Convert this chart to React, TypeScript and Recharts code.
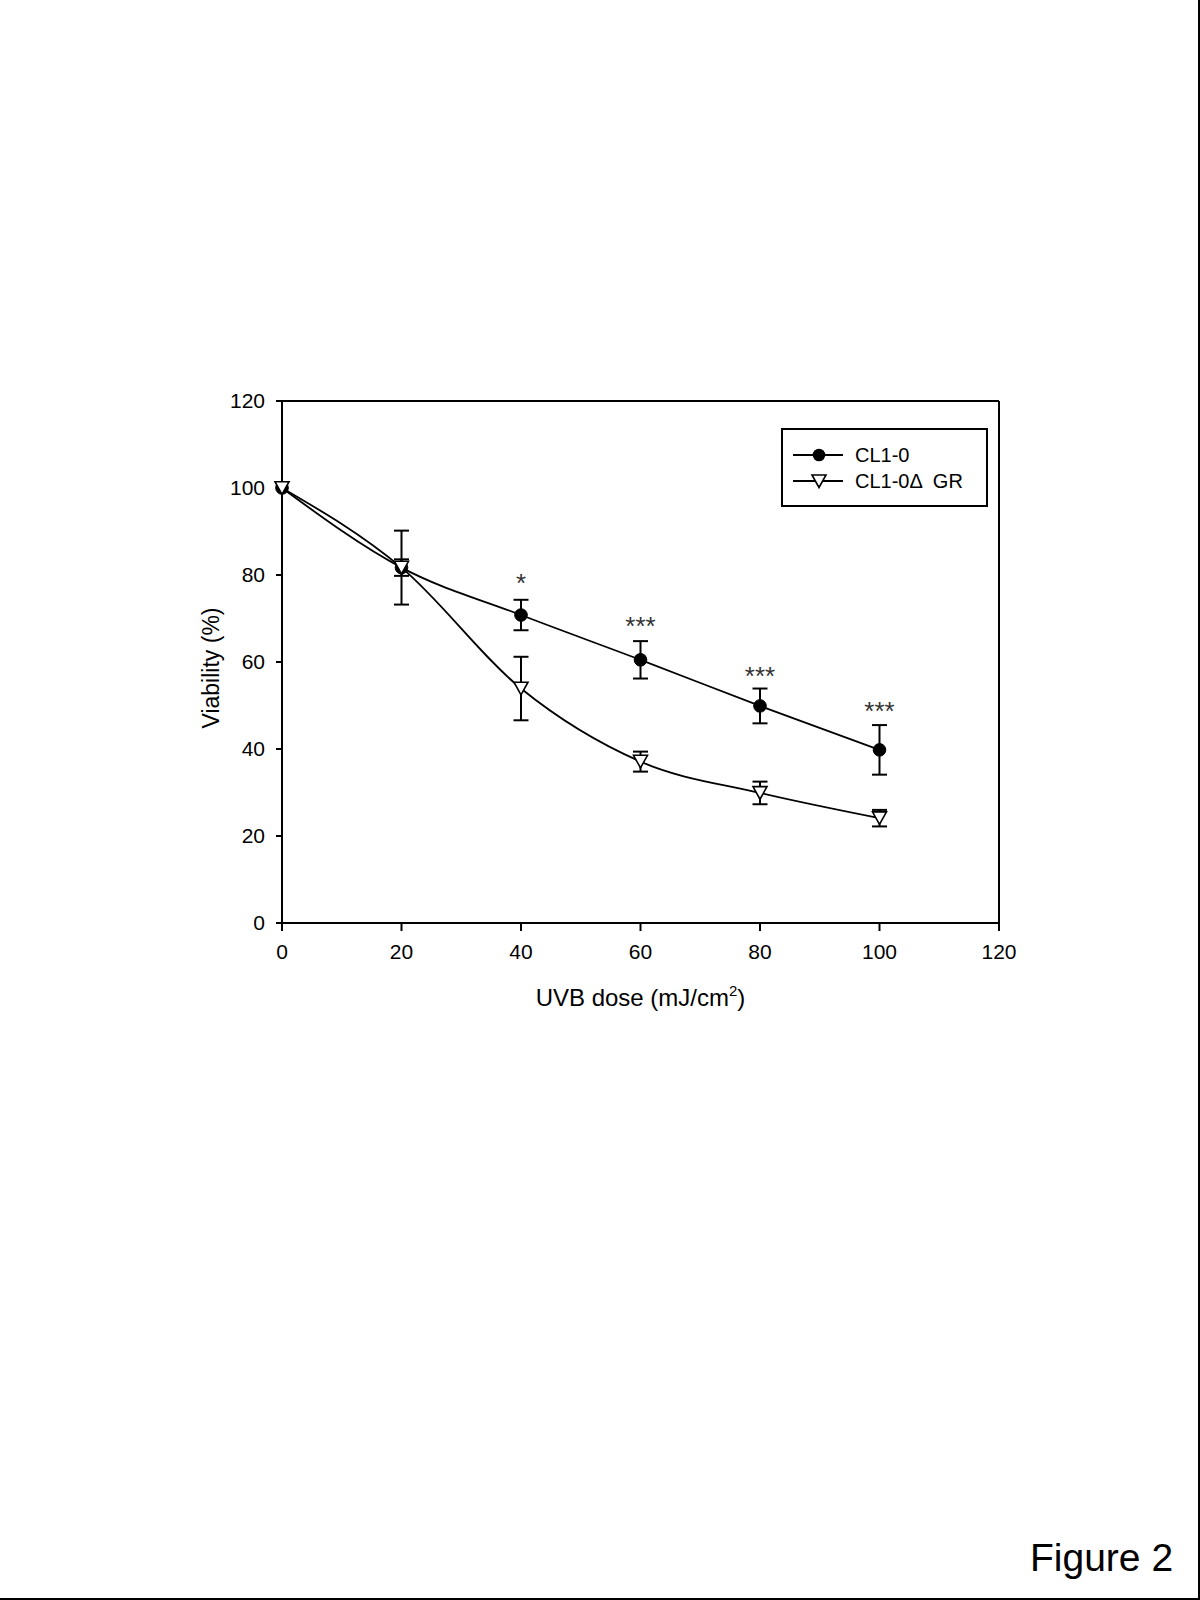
import React from 'react';
import {
  LineChart,
  Line,
  XAxis,
  YAxis,
  ErrorBar,
  ReferenceLine,
  ReferenceDot,
} from 'recharts';

const doses = [0, 20, 40, 60, 80, 100];
const cl10 = [100, 81.7, 70.8, 60.5, 49.9, 39.8];
const cl10Err = [0, 1.9, 3.5, 4.3, 4.0, 5.7];
const dgr = [100, 81.7, 53.9, 37.1, 29.9, 24.1];
const dgrErr = [0, 8.5, 7.3, 2.3, 2.6, 1.9];
const xTicks = [0, 20, 40, 60, 80, 100, 120];
const yTicks = [0, 20, 40, 60, 80, 100, 120];
const starDoses = [40, 60, 80, 100];
const starY = [78.9, 68.9, 57.5, 49.5];
const starText = ['*', '***', '***', '***'];

const SERIES_A = 'CL1-0';
const SERIES_B = 'CL1-0\u0394  GR';

const data = doses.map((d, i) => ({
  dose: d,
  a: cl10[i],
  aErr: cl10Err[i],
  b: dgr[i],
  bErr: dgrErr[i],
}));

const FONT = '"Liberation Sans", Arial, Helvetica, sans-serif';

const CircleDot = (props: any) => {
  const { cx, cy } = props;
  if (cx == null || cy == null) return null;
  return <circle cx={cx} cy={cy} r={6.3} fill="#000" stroke="#000" strokeWidth={1} />;
};

const TriDot = (props: any) => {
  const { cx, cy } = props;
  if (cx == null || cy == null) return null;
  const w = 7;
  const h = 6.3;
  return (
    <polygon
      points={`${cx - w},${cy - h} ${cx + w},${cy - h} ${cx},${cy + h}`}
      fill="#fff"
      stroke="#000"
      strokeWidth={1.6}
    />
  );
};

const LegendBox = () => (
  <div
    style={{
      position: 'absolute',
      left: 781,
      top: 428,
      width: 203,
      height: 75,
      border: '2px solid #000',
      background: '#fff',
    }}
  >
    <svg width={203} height={75} style={{ display: 'block' }}>
      <line x1={10} y1={25} x2={60} y2={25} stroke="#000" strokeWidth={1.8} />
      <circle cx={36} cy={25} r={6.3} fill="#000" />
      <text x={72} y={32} fontSize={20} fontFamily={FONT} fill="#000">{SERIES_A}</text>
      <line x1={10} y1={51} x2={60} y2={51} stroke="#000" strokeWidth={1.8} />
      <polygon points="29,45 43,45 36,57.5" fill="#fff" stroke="#000" strokeWidth={1.6} />
      <text x={72} y={58} fontSize={20} fontFamily={FONT} fill="#000" style={{ whiteSpace: 'pre' }}>{SERIES_B}</text>
    </svg>
  </div>
);

const StarLabel = (text: string) => (props: any) => {
  const vb = props.viewBox || {};
  const x = vb.x + (vb.width || 0) / 2;
  const y = vb.y + (vb.height || 0) / 2;
  return (
    <text x={x} y={y + 12} textAnchor="middle" fontSize={26} fontFamily={FONT} fill="#333">
      {text}
    </text>
  );
};

const XTitle = (props: any) => {
  const vb = props.viewBox || {};
  const cx = vb.x + vb.width / 2;
  return (
    <text x={cx} y={1006} textAnchor="middle" fontSize={24} fontFamily={FONT} fill="#000">
      <tspan>UVB dose (mJ/cm</tspan>
      <tspan fontSize={15} dy={-10}>2</tspan>
      <tspan dy={10}>)</tspan>
    </text>
  );
};

const YTitle = (props: any) => {
  const vb = props.viewBox || {};
  const cy = vb.y + vb.height / 2 + 6;
  const x = 219;
  return (
    <text
      x={x}
      y={cy}
      transform={`rotate(-90, ${x}, ${cy})`}
      textAnchor="middle"
      fontSize={23}
      fontFamily={FONT}
      fill="#000"
    >
      Viability (%)
    </text>
  );
};

export default function App() {
  return (
    <div
      style={{
        position: 'absolute',
        left: 0,
        top: 0,
        width: 1200,
        height: 1600,
        background: '#fff',
        boxSizing: 'border-box',
        borderRight: '2px solid #000',
        borderBottom: '2px solid #000',
        overflow: 'hidden',
      }}
    >
      <LineChart
        width={1200}
        height={1600}
        data={data}
        margin={{ top: 401, right: 201, left: 222, bottom: 647 }}
        style={{ fontFamily: FONT }}
      >
        <XAxis
          dataKey="dose"
          type="number"
          domain={[0, 120]}
          ticks={xTicks}
          interval={0}
          tickSize={8}
          tickMargin={13}
          axisLine={{ stroke: '#000', strokeWidth: 2 }}
          tickLine={{ stroke: '#000', strokeWidth: 2 }}
          tick={{ fill: '#000', fontSize: 21, fontFamily: FONT }}
          height={30}
          label={<XTitle />}
        />
        <YAxis
          type="number"
          domain={[0, 120]}
          ticks={yTicks}
          interval={0}
          tickSize={6}
          tickMargin={11}
          width={60}
          axisLine={{ stroke: '#000', strokeWidth: 2 }}
          tickLine={{ stroke: '#000', strokeWidth: 2 }}
          tick={{ fill: '#000', fontSize: 21, fontFamily: FONT }}
          label={<YTitle />}
        />
        <ReferenceLine y={120} stroke="#000" strokeWidth={2} />
        <ReferenceLine x={120} stroke="#000" strokeWidth={2} />
        <Line
          name={SERIES_A}
          dataKey="a"
          type="monotone"
          stroke="#000"
          strokeWidth={1.8}
          dot={<CircleDot />}
          activeDot={false}
          isAnimationActive={false}
        >
          <ErrorBar dataKey="aErr" direction="y" width={7.5} stroke="#000" strokeWidth={2} />
        </Line>
        <Line
          name={SERIES_B}
          dataKey="b"
          type="monotone"
          stroke="#000"
          strokeWidth={1.8}
          dot={<TriDot />}
          activeDot={false}
          isAnimationActive={false}
        >
          <ErrorBar dataKey="bErr" direction="y" width={7.5} stroke="#000" strokeWidth={2} />
        </Line>
        {starDoses.map((d, i) => (
          <ReferenceDot
            key={d}
            x={d}
            y={starY[i]}
            r={0}
            fill="none"
            stroke="none"
            label={StarLabel(starText[i])}
          />
        ))}
      </LineChart>
      <LegendBox />
      <div
        style={{
          position: 'absolute',
          left: 1030,
          top: 1534,
          fontFamily: FONT,
          fontSize: 39,
          color: '#000',
          lineHeight: '48px',
        }}
      >
        Figure 2
      </div>
    </div>
  );
}
